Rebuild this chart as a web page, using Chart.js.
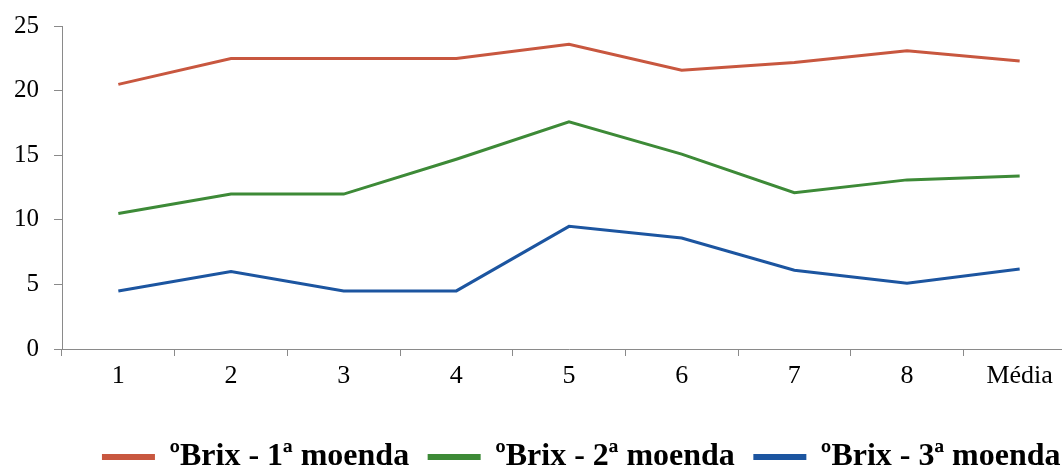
<!DOCTYPE html>
<html>
<head>
<meta charset="utf-8">
<script src="https://cdn.jsdelivr.net/npm/chart.js@4"></script>
<style>
  html, body { margin: 0; padding: 0; background: #fff; overflow: hidden; }
  #wrap { width: 1076px; height: 467px; }
</style>
</head>
<body>
<div id="wrap"><canvas id="myChart"></canvas></div>
<script>
const labels = ['1', '2', '3', '4', '5', '6', '7', '8', 'Média'];
const moenda1 = [20.5, 22.5, 22.5, 22.5, 23.6, 21.6, 22.2, 23.1, 22.3];
const moenda2 = [10.5, 12.0, 12.0, 14.7, 17.6, 15.1, 12.1, 13.1, 13.4];
const moenda3 = [4.5, 6.0, 4.5, 4.5, 9.5, 8.6, 6.1, 5.1, 6.2];
const seriesNames = ['ºBrix - 1ª moenda', 'ºBrix - 2ª moenda', 'ºBrix - 3ª moenda'];

function serie(label, data, color) {
    return {
        label: label,
        data: data,
        borderColor: color,
        backgroundColor: color,
        borderWidth: 3,
        pointRadius: 0,
        tension: 0
    };
}

const axisColor = '#8a8a8a';
const serif = 'Liberation Serif';

// nudge the legend box right and down after layout
const legendShift = {
    id: 'legendShift',
    afterLayout(chart) {
        const lg = chart.legend;
        lg.left += 44;
        lg.right += 44;
        lg.top += 16;
        lg.bottom += 16;
    }
};

var ctx = document.getElementById('myChart');
var myChart = new Chart(ctx, {
    type: 'line',
    data: {
        labels: labels,
        datasets: [
            serie(seriesNames[0], moenda1, '#c8573f'),
            serie(seriesNames[1], moenda2, '#3d8a37'),
            serie(seriesNames[2], moenda3, '#1c55a0')
        ]
    },
    plugins: [legendShift],
    options: {
        responsive: true,
        maintainAspectRatio: false,
        animation: false,
        layout: { padding: { top: 0, right: 0, bottom: 0, left: 0 } },
        plugins: {
            tooltip: { enabled: false },
            legend: {
                position: 'bottom',
                labels: {
                    color: '#000',
                    boxWidth: 50,
                    boxHeight: 3,
                    padding: 20,
                    font: { family: serif, size: 32, weight: 'bold' }
                }
            }
        },
        scales: {
            x: {
                offset: true,
                grid: {
                    offset: true,
                    drawOnChartArea: false,
                    drawTicks: true,
                    tickLength: 7,
                    color: axisColor
                },
                border: { color: axisColor },
                ticks: {
                    color: '#000',
                    padding: 5,
                    font: { family: serif, size: 26 }
                },
                afterFit: function (scale) { scale.height = 56; }
            },
            y: {
                min: 0,
                max: 25,
                ticks: {
                    stepSize: 5,
                    color: '#000',
                    padding: 15,
                    font: { family: serif, size: 25, lineHeight: 0.9 }
                },
                grid: {
                    drawOnChartArea: false,
                    drawTicks: true,
                    tickLength: 8,
                    color: axisColor
                },
                border: { color: axisColor },
                afterFit: function (scale) { scale.width = 62; }
            }
        }
    }
});
</script>
</body>
</html>
